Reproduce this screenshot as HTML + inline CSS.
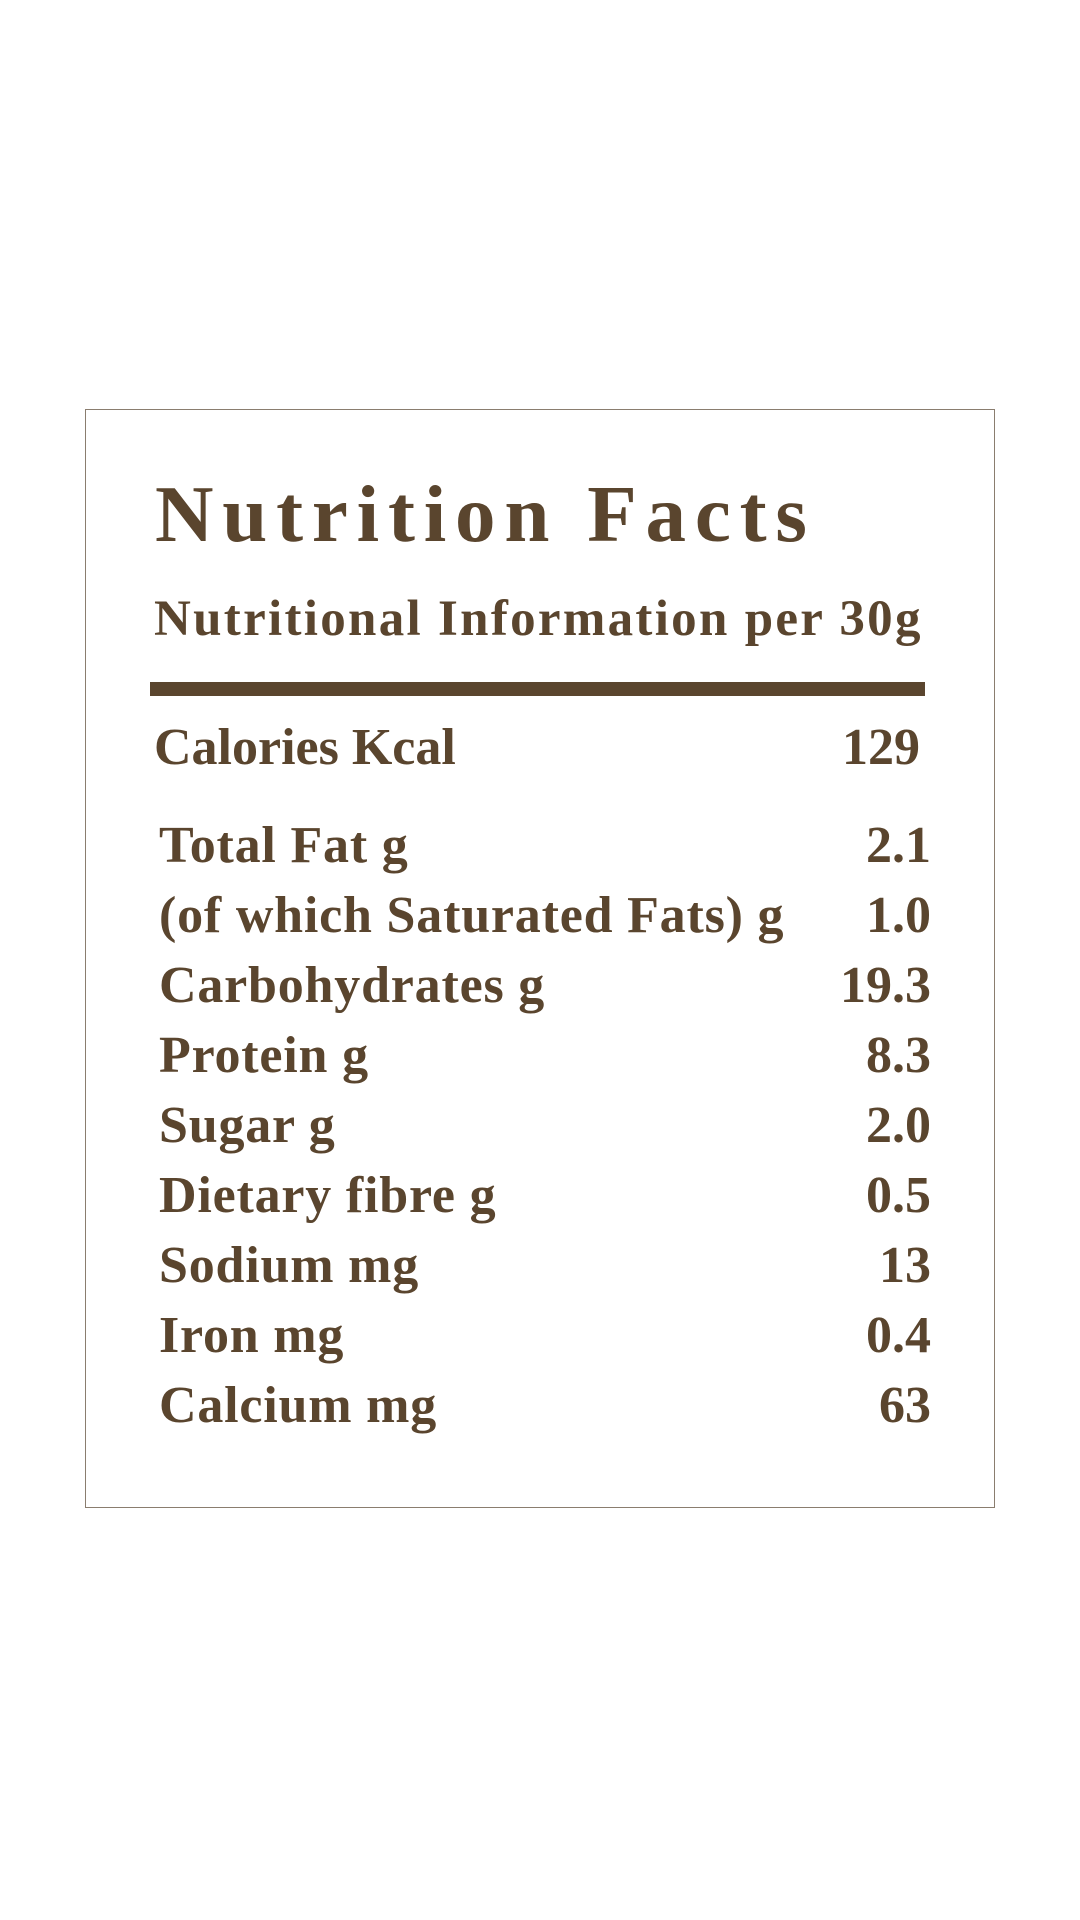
<!DOCTYPE html>
<html>
<head>
<meta charset="utf-8">
<style>
  html, body { margin:0; padding:0; background:#ffffff; }
  body { width:1080px; height:1920px; position:relative; overflow:hidden;
         font-family:"Liberation Serif", serif; font-weight:bold; color:#5a452e; }
  .box { position:absolute; left:85px; top:409px; width:910px; height:1099px;
         box-sizing:border-box; border:1.5px solid #8a7d6f; }
  .t { position:absolute; white-space:nowrap; line-height:1; }
  .title { left:155px; top:474px; font-size:81px; letter-spacing:8.8px; }
  .sub { left:154px; top:594px; font-size:51px; letter-spacing:2.3px; }
  .bar { position:absolute; left:150px; top:682px; width:775px; height:14px; background:#5a452e; }
  .lab { left:159px; font-size:52px; letter-spacing:0.8px; }
  .val { right:149px; font-size:52px; text-align:right; }
</style>
</head>
<body>
<div class="box"></div>
<div class="t title">Nutrition Facts</div>
<div class="t sub">Nutritional Information per 30g</div>
<div class="bar"></div>

<div class="t lab" style="left:154px;top:722px;letter-spacing:0px;">Calories Kcal</div>
<div class="t val" style="right:160px;top:722px;">129</div>

<div class="t lab" style="top:820px;">Total Fat g</div>
<div class="t val" style="top:820px;">2.1</div>

<div class="t lab" style="top:890px;">(of which Saturated Fats) g</div>
<div class="t val" style="top:890px;">1.0</div>

<div class="t lab" style="top:960px;">Carbohydrates g</div>
<div class="t val" style="top:960px;">19.3</div>

<div class="t lab" style="top:1030px;">Protein g</div>
<div class="t val" style="top:1030px;">8.3</div>

<div class="t lab" style="top:1100px;">Sugar g</div>
<div class="t val" style="top:1100px;">2.0</div>

<div class="t lab" style="top:1170px;">Dietary fibre g</div>
<div class="t val" style="top:1170px;">0.5</div>

<div class="t lab" style="top:1240px;">Sodium mg</div>
<div class="t val" style="top:1240px;">13</div>

<div class="t lab" style="top:1310px;">Iron mg</div>
<div class="t val" style="top:1310px;">0.4</div>

<div class="t lab" style="top:1380px;">Calcium mg</div>
<div class="t val" style="top:1380px;">63</div>
</body>
</html>
